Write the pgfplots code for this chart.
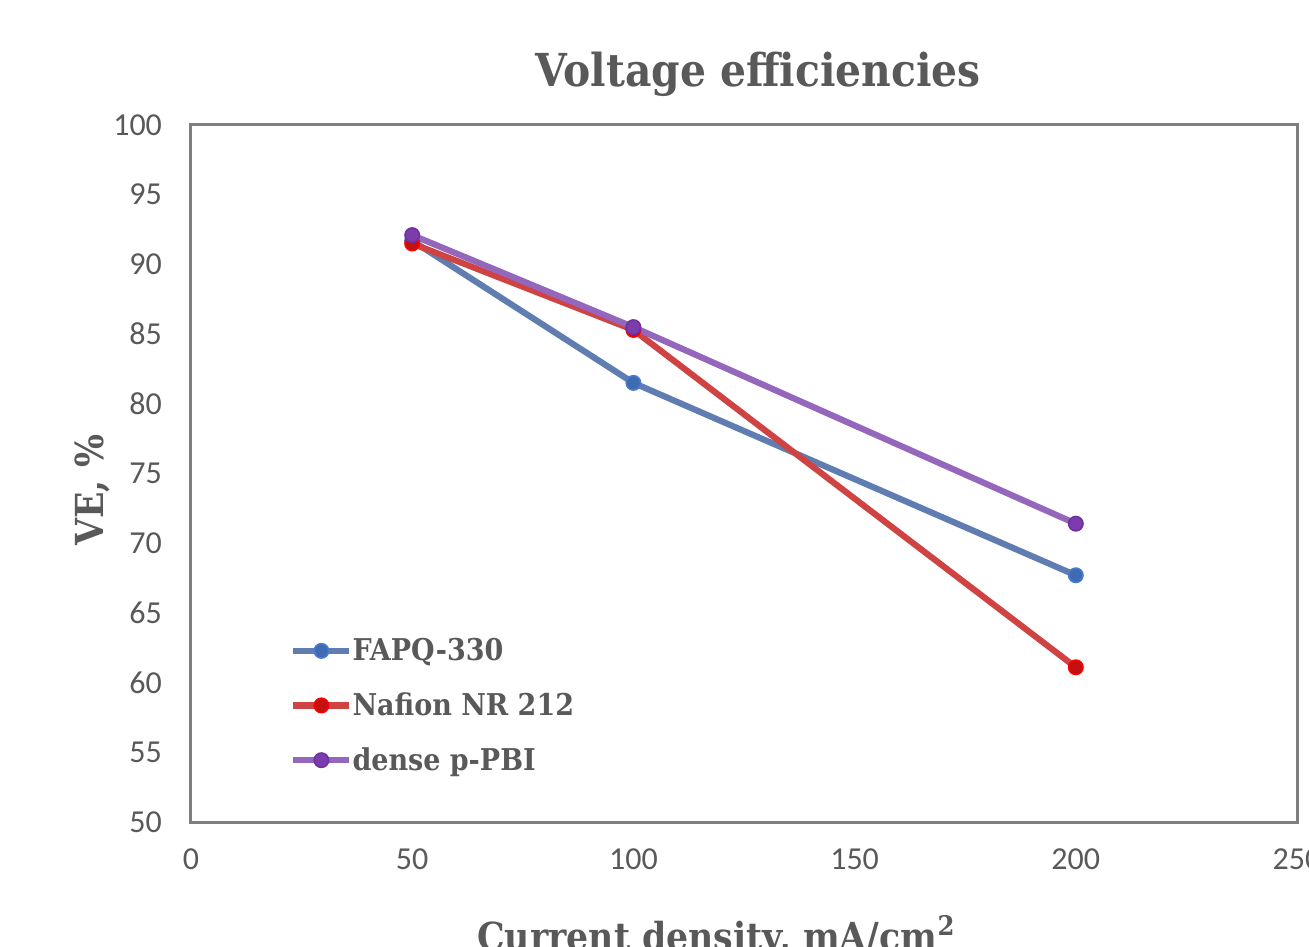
\documentclass[border=0pt]{standalone}
\usepackage{fontspec}
\setmainfont{Carlito}
\newfontfamily\slab{DejaVu Serif Condensed}
\usepackage{pgfplots}
\pgfplotsset{compat=1.18}
\definecolor{txt}{HTML}{595959}
\definecolor{frame}{HTML}{7F7F7F}
\definecolor{bline}{HTML}{607DB1}
\definecolor{bmark}{HTML}{3F6BB3}
\definecolor{bedge}{HTML}{4A7BD0}
\definecolor{rline}{HTML}{D04343}
\definecolor{rmark}{HTML}{C41010}
\definecolor{redge}{HTML}{FF0000}
\definecolor{pline}{HTML}{9466BC}
\definecolor{pmark}{HTML}{7B3DAE}
\definecolor{pedge}{HTML}{7030A0}
\begin{document}
\begin{tikzpicture}
\useasboundingbox (-95.5pt,-62pt) rectangle (559pt,411pt);
\clip (-95.5pt,-62pt) rectangle (559pt,411pt);
\begin{axis}[
  at={(0pt,0pt)}, anchor=south west,
  scale only axis, width=553pt, height=348.5pt,
  xmin=0, xmax=250, ymin=50, ymax=100,
  xtick={0,50,100,150,200,250},
  ytick={50,55,...,100},
  tick style={draw=none},
  axis line style={frame, line width=1.5pt},
  tick label style={font=\fontsize{16}{18}\selectfont, text=txt},
  /pgf/number format/assume math mode=true,
  xticklabel style={yshift=-10pt},
  yticklabel style={xshift=-11pt},
  title={\slab\bfseries Voltage efficiencies},
  title style={font=\fontsize{22.7}{26}\selectfont, text=txt, at={(axis description cs:0.513,1.056)}, anchor=center},
  xlabel={\slab\bfseries Current density, mA/cm\textsuperscript{2}},
  xlabel style={font=\fontsize{19.3}{22}\selectfont, text=txt, at={(axis description cs:0.475,-0.165)}, anchor=center},
  ylabel={\slab\bfseries VE, \%},
  ylabel style={font=\fontsize{19.3}{22}\selectfont, text=txt, at={(axis description cs:-0.0895,0.476)}, anchor=center, rotate=0},
  legend style={draw=none, fill=none, at={(axis description cs:0.084,0.2757)}, anchor=north west,
    font=\slab\bfseries\fontsize{15}{18}\selectfont, text=txt, row sep=10.5pt,
    nodes={inner xsep=0pt}},
  legend cell align=left,
  legend image code/.code={\draw[mark repeat=2,mark phase=2,#1] plot coordinates {(0pt,0pt)(14pt,0pt)(28pt,0pt)};},
]
\addplot[bline, line width=3.1pt, mark=*, mark size=3.6pt, mark options={fill=bmark, draw=bedge, line width=0.8pt}]
  coordinates {(50,91.7) (100,81.5) (200,67.7)};
\addlegendentry{FAPQ-330}
\addplot[rline, line width=3.1pt, mark=*, mark size=3.6pt, mark options={fill=rmark, draw=redge, line width=0.8pt}]
  coordinates {(50,91.5) (100,85.3) (200,61.1)};
\addlegendentry{Nafion NR 212}
\addplot[pline, line width=3.1pt, mark=*, mark size=3.6pt, mark options={fill=pmark, draw=pedge, line width=0.8pt}]
  coordinates {(50,92.1) (100,85.5) (200,71.4)};
\addlegendentry{dense p-PBI}
\end{axis}
\end{tikzpicture}
\end{document}
